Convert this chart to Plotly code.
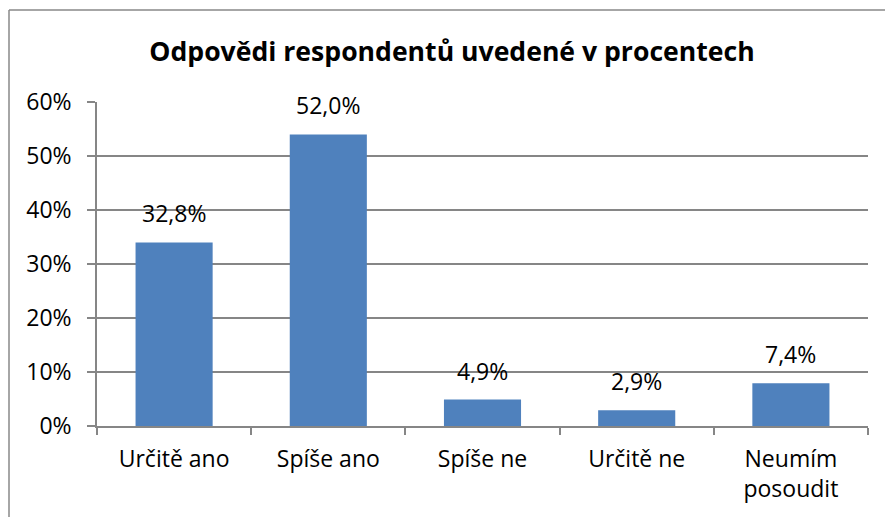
import plotly.graph_objects as go

categories = ["Určitě ano", "Spíše ano", "Spíše ne", "Určitě ne", "Neumím<br>posoudit"]
bar_values = [34.0, 54.0, 4.9, 2.9, 7.9]
label_texts = ["32,8%", "52,0%", "4,9%", "2,9%", "7,4%"]
tick_vals = [0, 10, 20, 30, 40, 50, 60]
tick_text = ["0%", "10%", "20%", "30%", "40%", "50%", "60%"]
title_text = "Odpovědi respondentů uvedené v procentech"

FONT = "Open Sans"
W, H = 885, 517
L, R, T, B = 97, 17, 102, 91
pw = W - L - R
ph = H - T - B


def px_x(p):
    return (p - L) / pw


def px_y(p):
    return (H - B - p) / ph


fig = go.Figure()
fig.add_trace(go.Bar(
    x=categories, y=bar_values,
    marker=dict(color="#4F81BD", line=dict(width=0)),
    hoverinfo="skip",
))

for c, v, t in zip(categories, bar_values, label_texts):
    fig.add_annotation(x=c, y=v, text=t, showarrow=False, yanchor="bottom",
                       yshift=11, font=dict(family=FONT, size=23, color="#000000"))

# outer chart border (top and left edges visible)
fig.add_shape(type="line", xref="paper", yref="paper",
              x0=px_x(9), x1=px_x(890), y0=px_y(10), y1=px_y(10),
              line=dict(color="#888888", width=1.5))
fig.add_shape(type="line", xref="paper", yref="paper",
              x0=px_x(9), x1=px_x(9), y0=px_y(10), y1=px_y(530),
              line=dict(color="#888888", width=1.5))

fig.update_layout(
    width=W, height=H,
    margin=dict(l=L, r=R, t=T, b=B),
    paper_bgcolor="white", plot_bgcolor="white",
    showlegend=False,
    bargap=0.5,
    title=dict(text="<b>" + title_text + "</b>", x=452 / W, xanchor="center",
               y=1 - 52 / H, yanchor="middle",
               font=dict(family=FONT, size=26.6, color="#000000")),
    font=dict(family=FONT, size=23, color="#000000"),
    xaxis=dict(showline=True, linecolor="#868686", linewidth=1.5,
               ticks="outside", tickson="boundaries", ticklen=7, tickcolor="#868686",
               tickwidth=1.5, tickfont=dict(family=FONT, size=23), fixedrange=True,
               ticklabelstandoff=12),
    yaxis=dict(range=[0, 60], tickvals=tick_vals, ticktext=tick_text,
               showgrid=True, gridcolor="#868686", gridwidth=1.5,
               showline=True, linecolor="#868686", linewidth=1.5,
               ticks="outside", ticklen=8, tickcolor="#868686", tickwidth=1.5,
               tickfont=dict(family=FONT, size=23), zeroline=False, fixedrange=True,
               ticklabelstandoff=11),
)

fig.write_html("out.html", config={"displayModeBar": False},
               post_script="document.body.style.margin='0';")
